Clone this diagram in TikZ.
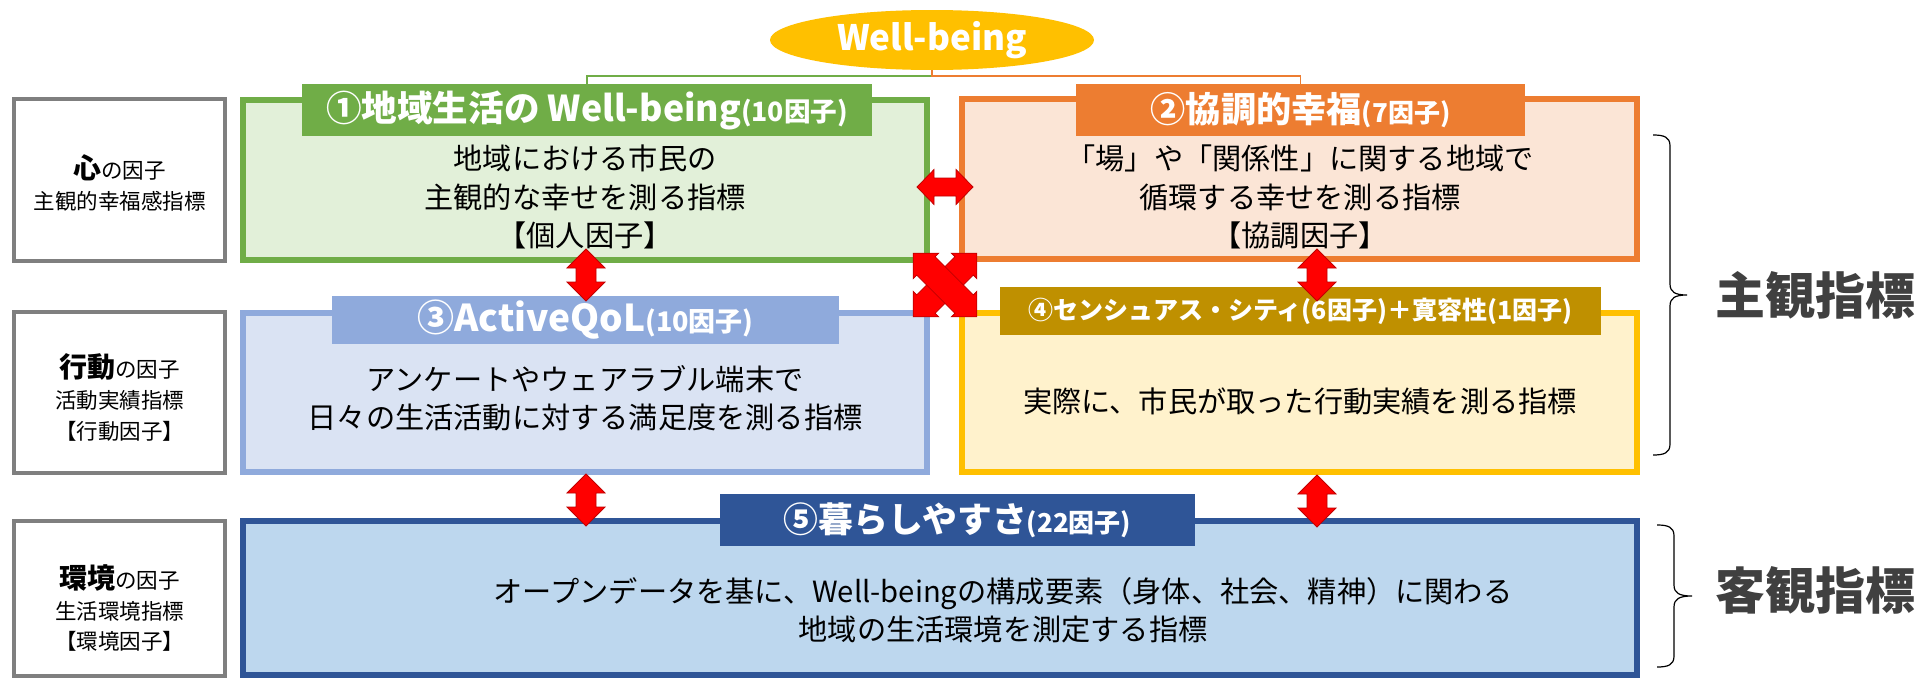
\documentclass[tikz,border=0pt]{standalone}
\usepackage{fontspec}
\setmainfont{Noto Sans CJK JP}
\usetikzlibrary{shapes.geometric}
\definecolor{grnB}{HTML}{70AD47}
\definecolor{grnF}{HTML}{E2F0D9}
\definecolor{orgB}{HTML}{ED7D31}
\definecolor{orgF}{HTML}{FBE5D6}
\definecolor{lbuB}{HTML}{8FAADC}
\definecolor{lbuF}{HTML}{DAE3F3}
\definecolor{yelB}{HTML}{FFC000}
\definecolor{yelF}{HTML}{FFF2CC}
\definecolor{yelH}{HTML}{BF9000}
\definecolor{dbuB}{HTML}{2F5597}
\definecolor{dbuF}{HTML}{BDD7EE}
\definecolor{grayB}{HTML}{7F7F7F}
\definecolor{arrRed}{HTML}{FF0000}
\definecolor{arrDark}{HTML}{C00000}
\definecolor{lblGray}{HTML}{404040}
\begin{document}
\begin{tikzpicture}[x=0.5pt,y=-0.5pt,
  cbox/.style={draw, line width=3pt, inner sep=0pt, outer sep=0pt},
  gbox/.style={draw=grayB, fill=white, line width=2.2pt, inner sep=0pt, outer sep=0pt, minimum width=105.3pt},
  hdr/.style={inner sep=0pt, outer sep=0pt, text=white, font=\bfseries},
  body/.style={align=center, inner sep=0pt, font=\fontsize{14.6}{19.25}\selectfont},
  side/.style={align=center, inner sep=0pt, font=\fontsize{10.75}{15.5}\selectfont},
  big/.style={inner sep=0pt, text=lblGray, font=\bfseries\fontsize{25}{28}\selectfont},
  brace/.style={draw=black, line width=0.6pt},
  pics/dblarrow/.style n args={4}{code={
    \filldraw[fill=arrRed, draw=arrDark, line width=0.4pt, line join=miter]
      (-#1,0) -- ({-#1+#2},#3) -- ({-#1+#2},#4) -- ({#1-#2},#4) -- ({#1-#2},#3) -- (#1,0)
      -- ({#1-#2},-#3) -- ({#1-#2},-#4) -- ({-#1+#2},-#4) -- ({-#1+#2},-#3) -- cycle;
  }}
]
\useasboundingbox[fill=white] (0,0) rectangle (1926,680);

% left category boxes
\node[gbox, minimum height=80.8pt] (L1) at (119.5,180) {};
\node[gbox, minimum height=80.3pt] (L2) at (119.5,392.5) {};
\node[gbox, minimum height=77.3pt] (L3) at (119.5,598.5) {};
\node[side] (lt1) at (119.5,183) {{\bfseries\fontsize{14}{15.5}\selectfont 心}の因子\\主観的幸福感指標};
\node[side] (lt2) at (119.5,397) {{\bfseries\fontsize{14}{15.5}\selectfont 行動}の因子\\活動実績指標\\【行動因子】};
\node[side] (lt3) at (119.5,608) {{\bfseries\fontsize{14}{15.5}\selectfont 環境}の因子\\生活環境指標\\【環境因子】};

% main boxes
\node[cbox, draw=grnB, fill=grnF, minimum width=342pt, minimum height=80pt] (G) at (585,180) {};
\node[cbox, draw=orgB, fill=orgF, minimum width=337.5pt, minimum height=80pt] (O) at (1299.5,179) {};
\node[cbox, draw=lbuB, fill=lbuF, minimum width=342pt, minimum height=79.5pt] (B) at (585,392.5) {};
\node[cbox, draw=yelB, fill=yelF, minimum width=337.5pt, minimum height=79.5pt] (Y) at (1299.5,392.5) {};
\node[cbox, draw=dbuB, fill=dbuF, minimum width=697pt, minimum height=77pt] (D) at (940,598) {};

% headers
\node[hdr, fill=grnB, minimum width=285pt, minimum height=26pt] (H1) at (587,110)
  {\fontsize{17.8}{20}\selectfont ①地域生活の Well-being{\fontsize{13.3}{15}\selectfont (10因子)}};
\node[hdr, fill=orgB, minimum width=224.5pt, minimum height=26pt] (H2) at (1300.5,110)
  {\fontsize{17.6}{20}\selectfont ②協調的幸福{\fontsize{13}{15}\selectfont (7因子)}};
\node[hdr, fill=lbuB, minimum width=253.5pt, minimum height=24pt] (H3) at (585.5,320)
  {\fontsize{18.5}{20}\selectfont ③ActiveQoL{\fontsize{13.5}{15}\selectfont (10因子)}};
\node[hdr, fill=yelH, minimum width=300.5pt, minimum height=24pt] (H4) at (1300.5,311)
  {\fontsize{12.5}{15}\selectfont ④センシュアス・シティ(6因子)＋寛容性(1因子)};
\node[hdr, fill=dbuB, minimum width=237.5pt, minimum height=26pt] (H5) at (957.5,520)
  {\fontsize{17.4}{20}\selectfont ⑤暮らしやすさ{\fontsize{13}{15}\selectfont (22因子)}};

% body texts
\node[body] (t1) at (585,197) {地域における市民の\\主観的な幸せを測る指標\\【個人因子】};
\node[body] (t2) at (1300,197) {「場」や「関係性」に関する地域で\\循環する幸せを測る指標\\【協調因子】};
\node[body] (t3) at (585,398) {アンケートやウェアラブル端末で\\日々の生活活動に対する満足度を測る指標};
\node[body] (t4) at (1300,401) {実際に、市民が取った行動実績を測る指標};
\node[body] (t5) at (1003,610) {オープンデータを基に、Well-beingの構成要素（身体、社会、精神）に関わる\\地域の生活環境を測定する指標};

% Well-being ellipse and tree connectors
\node[ellipse, fill=yelB, minimum width=162pt, minimum height=30pt, inner sep=0pt, text=white,
  font=\bfseries\fontsize{17.5}{20}\selectfont] (WB) at (932,40) {Well-being};
\coordinate (J) at (932,76);
\draw[grnB, line width=0.8pt] (J) -| (H1.north);
\draw[orgB, line width=0.8pt] (WB.south) -- (J) -| (H2.north);

% red double arrows
\coordinate (a12) at (945,187);
\coordinate (a13) at (586,275);
\coordinate (a24) at (1317,275);
\coordinate (a35) at (586,500);
\coordinate (a45) at (1317,501);
\coordinate (ax) at (945,285);
\pic at (a12) {dblarrow={28}{17}{17.5}{9}};
\pic[rotate=90] at (a13) {dblarrow={26}{19}{19}{10}};
\pic[rotate=90] at (a24) {dblarrow={26}{19}{19}{10}};
\pic[rotate=90] at (a35) {dblarrow={26}{19}{19}{10}};
\pic[rotate=90] at (a45) {dblarrow={26}{19}{19}{10}};
\pic[rotate=45] at (ax) {dblarrow={45}{18}{18}{13}};
\pic[rotate=-45] at (ax) {dblarrow={45}{18}{18}{13}};

% braces and labels
\draw[brace] (1653,135) .. controls (1664,135) and (1670,137) .. (1670,146) -- (1670,284)
  .. controls (1670,292) and (1675,295) .. (1687,295)
  .. controls (1675,295) and (1670,298) .. (1670,306) -- (1670,444)
  .. controls (1670,453) and (1664,455) .. (1653,455);
\draw[brace] (1657,525) .. controls (1668,525) and (1674,527) .. (1674,536) -- (1674,585)
  .. controls (1674,593) and (1679,596) .. (1692,596)
  .. controls (1679,596) and (1674,599) .. (1674,607) -- (1674,656)
  .. controls (1674,665) and (1668,667) .. (1657,667);
\node[big] (S) at (1815,295) {主観指標};
\node[big] (K) at (1815,590) {客観指標};
\end{tikzpicture}
\end{document}
